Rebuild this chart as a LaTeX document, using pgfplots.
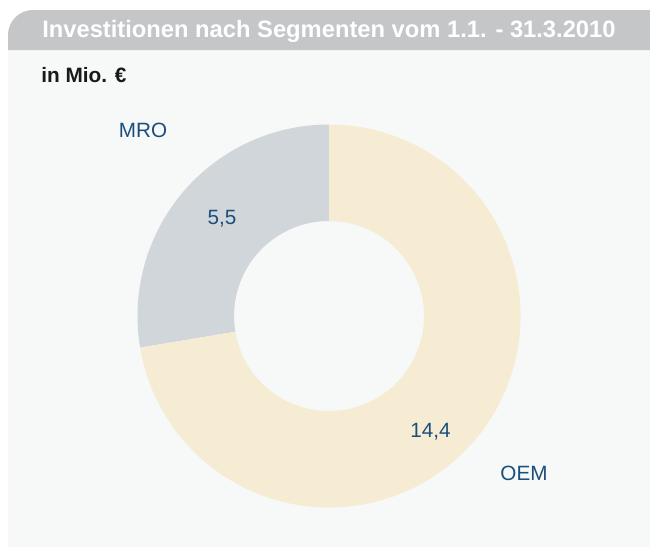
\documentclass[border=0pt]{standalone}
\usepackage{pgfplots}
\pgfplotsset{compat=1.18}
\usepackage{pgfplotstable}
\usepackage{fontspec}
\setmainfont{Liberation Sans}
\definecolor{hdr}{HTML}{C4C6C8}
\definecolor{panel}{HTML}{F7F8F8}
\definecolor{mro}{HTML}{D1D6DA}
\definecolor{oem}{HTML}{F5ECD3}
\definecolor{lbl}{HTML}{1A4F7D}
\pgfplotstableread{
seg val
MRO 5.5
OEM 14.4
}\segdata
\begin{document}
\begin{tikzpicture}[x=0.75pt,y=-0.75pt]
\useasboundingbox (0,0) rectangle (650,547);
\fill[white] (0,0) rectangle (650,547);
\fill[panel] (8,50) rectangle (650,547);
\fill[hdr] (8,50) -- (8,35) arc[start angle=180,end angle=270,radius=25] -- (650,10) -- (650,50) -- cycle;
\node[anchor=base west, inner sep=0pt, text=white, font=\bfseries\fontsize{17.8}{20}\selectfont] at (42,37.5) {Investitionen nach Segmenten vom 1.1. - 31.3.2010};
\node[anchor=base west, inner sep=0pt, text=black!90, font=\bfseries\fontsize{15.6}{18}\selectfont] at (41,82) {in Mio. €};
\pgfplotstablegetelem{0}{val}\of\segdata \let\vm\pgfplotsretval
\pgfplotstablegetelem{1}{val}\of\segdata \let\vo\pgfplotsretval
\pgfmathsetmacro\am{90+360*\vm/(\vm+\vo)}
\begin{axis}[at={(246.75pt,-237pt)}, anchor=center, scale only axis, width=287.25pt, height=287.25pt,
  xmin=-1, xmax=1, ymin=-1, ymax=1, hide axis, clip=false]
\fill[mro] (axis cs:0,1) arc[start angle=90, end angle=\am, radius=143.625pt]
  -- (axis cs:{0.496*cos(\am)},{0.496*sin(\am)}) arc[start angle=\am, end angle=90, radius=71.25pt] -- cycle;
\fill[oem] (axis cs:{cos(\am)},{sin(\am)}) arc[start angle=\am, end angle=450, radius=143.625pt]
  -- (axis cs:0,0.496) arc[start angle=450, end angle=\am, radius=71.25pt] -- cycle;
\end{axis}
\begin{scope}[every node/.style={anchor=base, inner sep=0pt, text=lbl, font=\fontsize{15.5}{17}\selectfont}]
\node at (143,137) {MRO};
\node at (222,224) {5,5};
\node at (430.5,437) {14,4};
\node at (524,480) {OEM};
\end{scope}
\end{tikzpicture}
\end{document}
